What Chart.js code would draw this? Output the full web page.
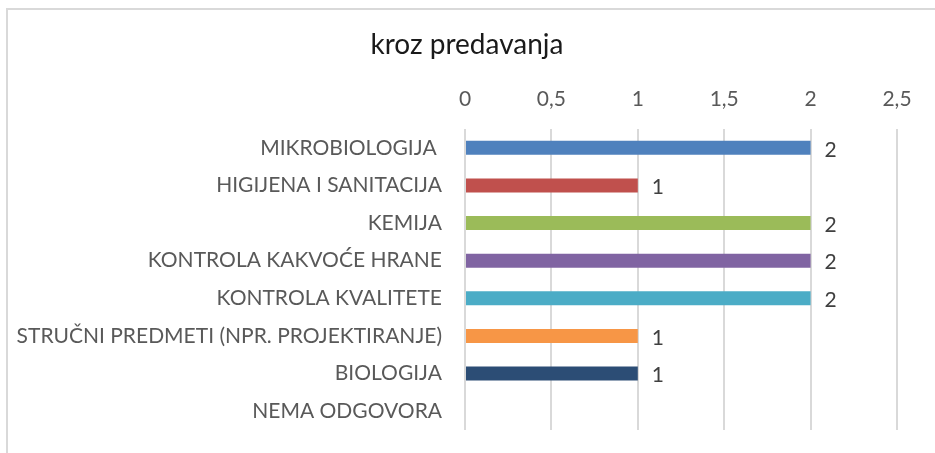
<!DOCTYPE html>
<html>
<head>
<meta charset="utf-8">
<script src="https://cdn.jsdelivr.net/npm/chart.js@4.4.1/dist/chart.umd.min.js"></script>
<style>
  html, body { margin: 0; padding: 0; background: #fff; }
  canvas { display: block; }
</style>
</head>
<body>
<canvas id="chart" width="935" height="453"></canvas>
<script>
// categories, values and colours for the bars
const categories = [
    'MIKROBIOLOGIJA ',
    'HIGIJENA I SANITACIJA',
    'KEMIJA',
    'KONTROLA KAKVOĆE HRANE',
    'KONTROLA KVALITETE',
    'STRUČNI PREDMETI (NPR. PROJEKTIRANJE)',
    'BIOLOGIJA',
    'NEMA ODGOVORA'
];
const values = [2, 1, 2, 2, 2, 1, 1, 0];
const barColors = ['#4F81BD', '#C0504D', '#9BBB59', '#8064A2', '#4BACC6', '#F79646', '#2C4D75', '#4F81BD'];
const xTicks = [0, 0.5, 1, 1.5, 2, 2.5];
const chartTitle = 'kroz predavanja';

const FONT = 'Lato, "Open Sans", sans-serif';

// white background, light frame and the title
const framePlugin = {
    id: 'frame',
    beforeDraw(chart) {
        const ctx = chart.ctx;
        ctx.save();
        ctx.fillStyle = '#fff';
        ctx.fillRect(0, 0, chart.width, chart.height);
        ctx.strokeStyle = '#d9d9d9';
        ctx.lineWidth = 2;
        ctx.strokeRect(7, 9, 2000, 2000);
        ctx.fillStyle = '#1a1a1a';
        ctx.font = '28px ' + FONT;
        ctx.textAlign = 'center';
        ctx.textBaseline = 'middle';
        ctx.fillText(chartTitle, 467, 45);
        ctx.restore();
    }
};

// value labels at the end of each bar
const valueLabels = {
    id: 'valueLabels',
    afterDatasetsDraw(chart) {
        const ctx = chart.ctx;
        const meta = chart.getDatasetMeta(0);
        ctx.save();
        ctx.font = '21px ' + FONT;
        ctx.fillStyle = '#404040';
        ctx.textAlign = 'center';
        ctx.textBaseline = 'middle';
        meta.data.forEach((bar, i) => {
            const v = values[i];
            if (!v) return;
            ctx.fillText(String(v).replace('.', ','), bar.x + 20, bar.y + 2);
        });
        ctx.restore();
    }
};

new Chart(document.getElementById('chart'), {
    type: 'bar',
    data: {
        labels: categories,
        datasets: [{
            data: values,
            backgroundColor: barColors,
            borderWidth: 0,
            barPercentage: 0.37,
            categoryPercentage: 1
        }]
    },
    options: {
        indexAxis: 'y',
        responsive: false,
        animation: false,
        layout: { padding: { top: 70, right: 38, bottom: 23, left: 0 } },
        plugins: {
            legend: { display: false },
            tooltip: { enabled: false },
            title: { display: false }
        },
        scales: {
            x: {
                position: 'top',
                min: 0,
                max: 2.5,
                afterBuildTicks(scale) {
                    scale.ticks = xTicks.map(v => ({ value: v }));
                },
                afterFit(scale) { scale.height = 59; },
                grid: { color: '#d9d9d9', lineWidth: 2, drawTicks: false },
                border: { display: false },
                ticks: {
                    color: '#595959',
                    padding: 17,
                    font: { family: FONT, size: 21 },
                    callback: v => String(v).replace('.', ',')
                }
            },
            y: {
                afterFit(scale) {
                    scale.width = 465;
                    scale.paddingTop = 0;
                    scale.paddingBottom = 0;
                },
                grid: { display: false, drawTicks: false },
                border: { display: false },
                ticks: {
                    color: '#595959',
                    padding: 23,
                    font: { family: FONT, size: 21 }
                }
            }
        }
    },
    plugins: [framePlugin, valueLabels]
});
</script>
</body>
</html>
